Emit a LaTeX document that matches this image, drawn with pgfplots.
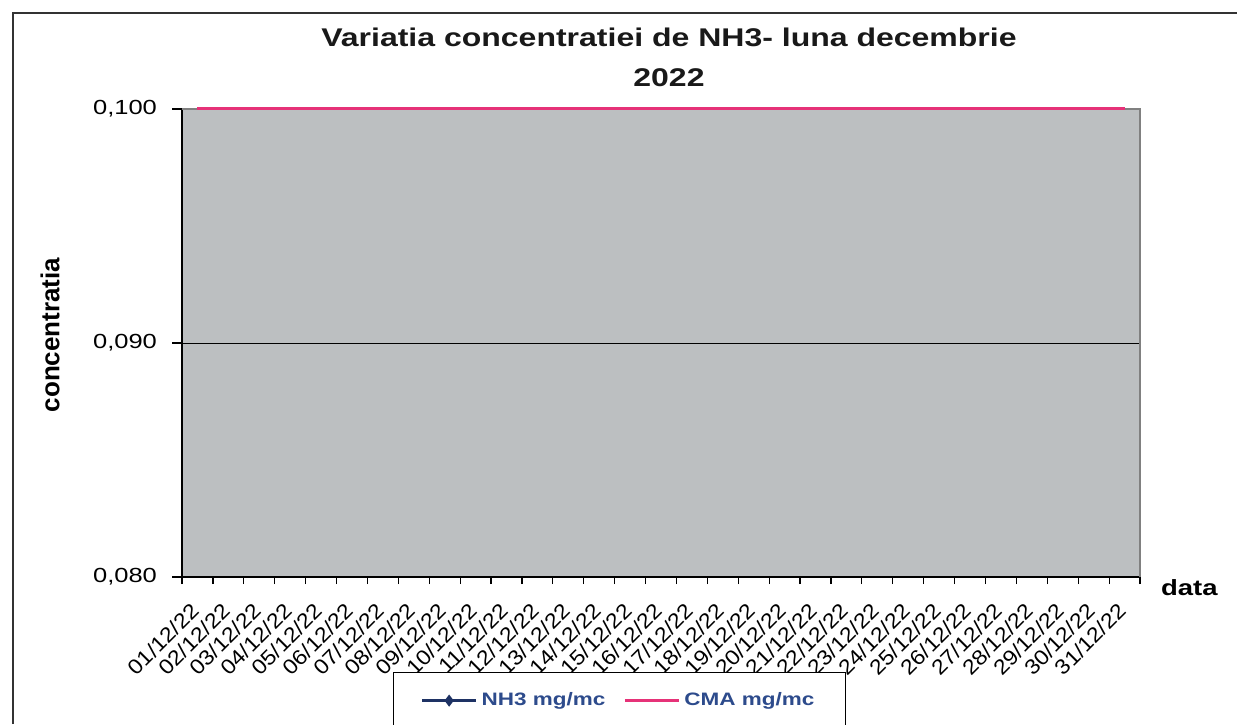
\documentclass[border=0pt]{standalone}
\usepackage{fontspec}
\setmainfont{Liberation Sans}[FakeStretch=1.25]
\newfontfamily\ylabfont{Liberation Sans}
\newfontfamily\xtickfont{Liberation Sans}[FakeStretch=1.1]
\usepackage{pgfplots}
\pgfplotsset{compat=1.18}
\definecolor{plotbg}{RGB}{188,191,193}
\definecolor{cmapink}{RGB}{230,50,120}
\definecolor{legblue}{RGB}{45,75,140}
\definecolor{nhnavy}{RGB}{30,50,100}
\begin{document}
\begin{tikzpicture}
\path[use as bounding box] (0,0) rectangle (618.5pt,362pt);
\draw[black!80, line width=0.6pt] (6.5pt,0) -- (6.5pt,355.5pt) -- (618.5pt,355.5pt);
\node[anchor=base, font=\bfseries\fontsize{12.8}{14}\selectfont, text=black!90] at (334.5pt,338.5pt) {Variatia concentratiei de NH3- luna decembrie};
\node[anchor=base, font=\bfseries\fontsize{12.8}{14}\selectfont, text=black!90] at (334.5pt,318.5pt) {2022};
\begin{axis}[
  at={(91pt,73.5pt)}, anchor=south west,
  width=479pt, height=234pt, scale only axis,
  xmin=0.5, xmax=31.5, ymin=0.08, ymax=0.1,
  axis x line*=bottom, axis y line*=left,
  axis line style={black, line width=0.6pt},
  axis background/.style={fill=plotbg},
  clip=false,
  ytick={0.08,0.09,0.1},
  ymajorgrids, grid style={black, line width=0.5pt},
  tick align=outside,
  major tick length=5pt, minor tick length=3.5pt,
  tick style={black, line width=0.6pt},
  every major x tick/.style={draw=none},
  xtick={1,...,31},
  minor xtick={0.5,1.5,...,31.5},
  xticklabels={01/12/22,02/12/22,03/12/22,04/12/22,05/12/22,06/12/22,07/12/22,08/12/22,09/12/22,10/12/22,11/12/22,12/12/22,13/12/22,14/12/22,15/12/22,16/12/22,17/12/22,18/12/22,19/12/22,20/12/22,21/12/22,22/12/22,23/12/22,24/12/22,25/12/22,26/12/22,27/12/22,28/12/22,29/12/22,30/12/22,31/12/22},
  xticklabel style={font=\xtickfont\fontsize{10.5}{11}\selectfont, xshift=-1pt, yshift=-10pt, rotate=45, anchor=east, inner sep=0pt},
  yticklabel style={font=\fontsize{10.2}{12}\selectfont, xshift=-4pt},
  /pgf/number format/.cd, fixed, fixed zerofill, precision=3, use comma, assume math mode=true,
  /pgfplots/.cd,
  xlabel={data},
  every axis x label/.style={at={(rel axis cs:1,0)}, xshift=7pt, yshift=-5.5pt, anchor=west, font=\bfseries\fontsize{11}{12}\selectfont},
  ylabel={concentratia},
  every axis y label/.style={at={(rel axis cs:0,0.5)}, xshift=-66pt, yshift=4pt, rotate=90, anchor=center, font=\ylabfont\bfseries\fontsize{13}{14}\selectfont},
  legend columns=2,
  legend style={at={(0.2203,-0.203)}, anchor=north west, draw=black, line width=0.6pt, fill=white,
    inner xsep=13.5pt, inner ysep=8pt,
    font=\bfseries\fontsize{9}{11}\selectfont, text=legblue,
    /tikz/every even column/.append style={column sep=7pt}},
  legend image code/.code={\draw[mark repeat=2,mark phase=2,#1] plot coordinates {(0pt,0pt) (13.5pt,0pt) (27pt,0pt)};},
]
\addlegendimage{nhnavy, line width=1.5pt, mark=diamond*, mark size=1.8pt, mark options={solid, fill=nhnavy}}
\addlegendentry{NH3 mg/mc}
\addplot[cmapink, line width=1.5pt, mark=none] coordinates {
(1,0.1) (2,0.1) (3,0.1) (4,0.1) (5,0.1) (6,0.1) (7,0.1) (8,0.1) (9,0.1) (10,0.1)
(11,0.1) (12,0.1) (13,0.1) (14,0.1) (15,0.1) (16,0.1) (17,0.1) (18,0.1) (19,0.1) (20,0.1)
(21,0.1) (22,0.1) (23,0.1) (24,0.1) (25,0.1) (26,0.1) (27,0.1) (28,0.1) (29,0.1) (30,0.1) (31,0.1)};
\addlegendentry{CMA mg/mc}
\draw[gray, line width=0.6pt] (rel axis cs:0,1) -- (rel axis cs:1,1) -- (rel axis cs:1,0);
\addplot[cmapink, line width=1.5pt, mark=none, forget plot] coordinates {(1,0.1) (31,0.1)};
\end{axis}
\end{tikzpicture}
\end{document}
